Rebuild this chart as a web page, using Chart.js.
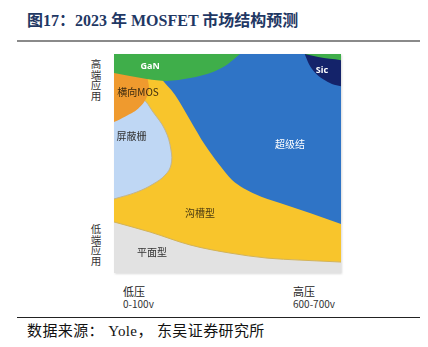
<!DOCTYPE html>
<html>
<head>
<meta charset="utf-8">
<script src="https://cdn.jsdelivr.net/npm/chart.js@4"></script>
<style>
  html, body { margin: 0; padding: 0; background: #fff; }
  body { width: 428px; height: 347px; position: relative; overflow: hidden;
         font-family: "Noto Sans CJK SC", "Noto Sans", sans-serif; }
  .title { position: absolute; left: 27px; top: 7px; font-size: 16px; font-weight: bold;
           color: #1f3864; font-family: "Liberation Serif", "Noto Sans CJK SC", serif; white-space: nowrap; }
  .rule-top { position: absolute; left: 17px; right: 8px; top: 40px; height: 2px; background: #8a8a8a; }
  .rule-bottom { position: absolute; left: 17px; right: 8px; top: 317px; height: 1px; background: #222; }
  .source { position: absolute; left: 27px; top: 319px; font-size: 15px; color: #111; letter-spacing: 0.4px;
            font-family: "Liberation Serif", "Noto Sans CJK SC", serif; white-space: pre; }
  .plot { position: absolute; left: 114px; top: 54px; width: 227px; height: 219px;
          box-shadow: 1px 1px 2px rgba(0, 0, 0, 0.15); }
  .vlabel { position: absolute; left: 90px; width: 12px; font-size: 10.5px; line-height: 10.5px;
            color: #333; text-align: center; }
  .xlabel { position: absolute; font-size: 11px; line-height: 12px; color: #222; }
  .xlabel small { font-size: 10px; color: #333; }
</style>
</head>
<body>
<div class="title">图17：2023 年 MOSFET 市场结构预测</div>
<div class="rule-top"></div>

<div class="vlabel" style="top:59px">高<br>端<br>应<br>用</div>
<div class="vlabel" style="top:224px">低<br>端<br>应<br>用</div>

<div class="plot"><canvas id="mapChart"></canvas></div>

<div class="xlabel" style="left:123px; top:285px">低压<br><small>0-100v</small></div>
<div class="xlabel" style="left:293px; top:285px">高压<br><small>600-700v</small></div>

<div class="rule-bottom"></div>
<div class="source">数据来源： Yole， 东吴证券研究所</div>

<script>
// Region boundaries on a 0-100 grid (x: voltage, low -> high; y: application, low-end -> high-end)

// 平面型: top edge of the planar band, filled down to the axis
const planarX = [0, 15.9, 33.5, 51.1, 67.4, 81.9, 100];
const planarY = [23.3, 18.7, 12.8, 9.1, 6.8, 5.9, 5.0];

// 沟槽型: edge against the super-junction area, filled down to the axis
const trenchX = [0, 14, 20.3, 26.9, 33.5, 40.1, 45.8, 52.0, 62.1, 73.1, 86.3, 100];
const trenchY = [100, 100, 89.5, 81.3, 69.9, 58.4, 50.2, 42.5, 36.1, 32.0, 27.4, 22.4];

// 屏蔽栅: closed outline on the left side
const shieldX = [0, 7.0, 12.3, 17.2, 22.5, 25.1, 25.1, 22.5, 17.2, 10.1, 0];
const shieldY = [79.0, 80.8, 79.9, 73.5, 65.3, 56.2, 49.3, 44.7, 40.6, 37.0, 33.8];

// 横向MOS: closed outline in the upper left corner
const lateralX = [0, 12.5, 15.3, 14.4, 10.6, 5.0, 0];
const lateralY = [94.1, 92.2, 86.0, 80.2, 75.0, 71.5, 68.9];

// GaN: lower edge, filled up to the top
const ganX = [0, 7.0, 14.5, 23.3, 33.5, 43.6, 48.9, 52.4, 55.5];
const ganY = [91.3, 90.0, 88.6, 87.7, 89.0, 91.8, 94.5, 97.3, 100];

// GaN sliver in the top right corner
const ganRightX = [84.0, 90.0, 100];
const ganRightY = [100, 98.6, 97.2];

// Sic: lower edge, filled up to the top
const sicX = [84.0, 85.8, 88.5, 92.0, 96.0, 100];
const sicY = [100, 95.6, 91.6, 88.6, 86.3, 85.3];

// 超级结 covers everything behind the other regions
const superX = [0, 100];
const superY = [100, 100];

const toPoints = (xs, ys) => xs.map((x, i) => ({ x: x, y: ys[i] }));

// label anchors (data units) and text styles for each region
const regionLabels = [
    { text: 'GaN',    at: [15.9, 94.5], color: '#ffffff', font: 'bold 9px "Noto Sans", sans-serif' },
    { text: 'Sic',    at: [91.6, 92.5], color: '#ffffff', font: 'bold 9px "Noto Sans", sans-serif' },
    { text: '横向MOS', at: [10.6, 82.6], color: '#3a2a10', font: '10px "Noto Sans CJK SC", sans-serif' },
    { text: '屏蔽栅',  at: [7.7, 62.6],  color: '#333333', font: '10px "Noto Sans CJK SC", sans-serif' },
    { text: '超级结',  at: [77.5, 58.9], color: '#ffffff', font: '10px "Noto Sans CJK SC", sans-serif' },
    { text: '沟槽型',  at: [37.9, 27.4], color: '#4a3a10', font: '10px "Noto Sans CJK SC", sans-serif' },
    { text: '平面型',  at: [16.7, 9.6],  color: '#333333', font: '10px "Noto Sans CJK SC", sans-serif' }
];

const regionLabelPlugin = {
    id: 'regionLabels',
    afterDatasetsDraw(chart) {
        const { ctx, scales } = chart;
        ctx.save();
        ctx.textAlign = 'center';
        ctx.textBaseline = 'middle';
        regionLabels.forEach(l => {
            ctx.font = l.font;
            ctx.fillStyle = l.color;
            ctx.fillText(l.text, scales.x.getPixelForValue(l.at[0]), scales.y.getPixelForValue(l.at[1]));
        });
        ctx.restore();
    }
};

const area = (label, xs, ys, color, fill, extra) => Object.assign({
    label: label,
    data: toPoints(xs, ys),
    backgroundColor: color,
    borderColor: color,
    borderWidth: 0,
    pointRadius: 0,
    fill: fill,
    cubicInterpolationMode: 'monotone'
}, extra || {});

// first dataset is drawn on top
new Chart(document.getElementById('mapChart'), {
    type: 'line',
    data: {
        datasets: [
            area('GaN', ganRightX, ganRightY, '#3fae4a', 'end'),
            area('Sic', sicX, sicY, '#14236a', 'end'),
            area('GaN', ganX, ganY, '#3fae4a', 'end'),
            area('横向MOS', lateralX, lateralY, '#ef9a2e', 'shape',
                 { cubicInterpolationMode: 'default', tension: 0.4 }),
            area('屏蔽栅', shieldX, shieldY, '#bfd7f4', 'shape',
                 { cubicInterpolationMode: 'default', tension: 0.4, borderColor: '#c2b48e', borderWidth: 1 }),
            area('平面型', planarX, planarY, '#e2e2e2', 'start',
                 { borderColor: '#d2b35a', borderWidth: 1 }),
            area('沟槽型', trenchX, trenchY, '#f8c52c', 'start'),
            area('超级结', superX, superY, '#2f74c6', 'start')
        ]
    },
    options: {
        responsive: true,
        maintainAspectRatio: false,
        animation: false,
        devicePixelRatio: 1,
        layout: { padding: 0 },
        plugins: {
            legend: { display: false },
            tooltip: { enabled: false }
        },
        scales: {
            x: { type: 'linear', min: 0, max: 100, display: false },
            y: { type: 'linear', min: 0, max: 100, display: false }
        }
    },
    plugins: [regionLabelPlugin]
});
</script>
</body>
</html>
